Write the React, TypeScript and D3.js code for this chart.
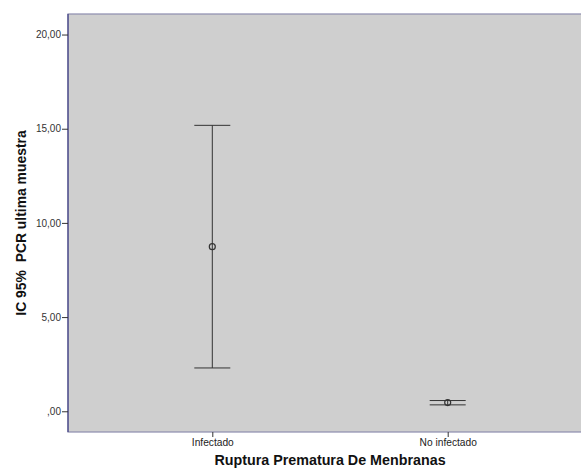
import React, { useRef, useEffect } from "react";
import * as d3 from "d3";

const categories = ["Infectado", "No infectado"];
const means = [8.74, 0.46];
const lowers = [2.3, 0.34];
const uppers = [15.18, 0.57];
const yTicks = [0, 5, 10, 15, 20];

const fmt = (v: number) => (v === 0 ? ",00" : v.toFixed(2).replace(".", ","));

function ErrorBarChart() {
  const ref = useRef<SVGSVGElement>(null);

  useEffect(() => {
    const width = 581,
      height = 474;
    const left = 68,
      top = 14,
      bottom = 432,
      right = 592;

    const svg = d3.select(ref.current);
    svg.selectAll("*").remove();
    svg.attr("width", width).attr("height", height);

    const y = d3.scaleLinear().domain([-1.1, 21.09]).range([bottom, top]);
    const x = d3.scalePoint().domain(categories).range([left, right]).padding(0.613);

    svg
      .append("rect")
      .attr("x", left)
      .attr("y", top)
      .attr("width", right - left)
      .attr("height", bottom - top)
      .attr("fill", "#cfcfcf")
      .attr("stroke", "#8c8cae")
      .attr("stroke-width", 1.2);

    // y axis
    const yAxis = svg
      .append("g")
      .attr("transform", `translate(${left},0)`)
      .call(d3.axisLeft(y).tickValues(yTicks).tickSize(6).tickFormat(d => fmt(+d)));
    yAxis.select(".domain").attr("stroke", "#2d2d7a").attr("d", `M0,${top}V${bottom}`);
    yAxis.selectAll(".tick line").attr("stroke", "#333");
    yAxis
      .selectAll(".tick text")
      .attr("fill", "#333")
      .attr("font-family", "Liberation Sans, Arial, sans-serif")
      .attr("font-size", "10px")
      .attr("x", -7);

    // x axis
    const xAxis = svg
      .append("g")
      .attr("transform", `translate(0,${bottom})`)
      .call(d3.axisBottom(x).tickSize(5).tickSizeOuter(0));
    xAxis.select(".domain").remove();
    xAxis.selectAll(".tick line").attr("stroke", "#333");
    xAxis
      .selectAll(".tick text")
      .attr("fill", "#222")
      .attr("font-family", "Liberation Sans, Arial, sans-serif")
      .attr("font-size", "10.2px")
      .attr("y", 7);

    const bars = svg
      .selectAll(".bar")
      .data(categories)
      .enter()
      .append("g")
      .attr("class", "bar")
      .attr("stroke", "#333")
      .attr("fill", "none");

    const capW = 18;
    bars
      .append("line")
      .attr("x1", d => x(d)!)
      .attr("x2", d => x(d)!)
      .attr("y1", (d, i) => y(uppers[i]))
      .attr("y2", (d, i) => y(lowers[i]));
    bars
      .append("line")
      .attr("x1", d => x(d)! - capW)
      .attr("x2", d => x(d)! + capW)
      .attr("y1", (d, i) => y(uppers[i]))
      .attr("y2", (d, i) => y(uppers[i]));
    bars
      .append("line")
      .attr("x1", d => x(d)! - capW)
      .attr("x2", d => x(d)! + capW)
      .attr("y1", (d, i) => y(lowers[i]))
      .attr("y2", (d, i) => y(lowers[i]));
    bars
      .append("circle")
      .attr("cx", d => x(d)!)
      .attr("cy", (d, i) => y(means[i]))
      .attr("r", 3)
      .attr("stroke-width", 1.2);

    const midX = (x(categories[0])! + x(categories[1])!) / 2;

    svg
      .append("text")
      .attr("x", midX)
      .attr("y", 465)
      .attr("text-anchor", "middle")
      .attr("font-family", "Liberation Sans, Arial, sans-serif")
      .attr("font-weight", "bold")
      .attr("font-size", "14.3px")
      .attr("fill", "#111")
      .text("Ruptura Prematura De Menbranas");

    svg
      .append("text")
      .attr("transform", `translate(25.5,${(top + bottom) / 2}) rotate(-90)`)
      .attr("text-anchor", "middle")
      .attr("font-family", "Liberation Sans, Arial, sans-serif")
      .attr("font-weight", "bold")
      .attr("font-size", "13.9px")
      .attr("fill", "#111")
      .attr("xml:space", "preserve")
      .style("white-space", "pre")
      .text("IC 95%  PCR ultima muestra");
  }, []);

  return <svg ref={ref} style={{ position: "absolute", left: 0, top: 0 }}></svg>;
}

export default function App() {
  return <ErrorBarChart />;
}
